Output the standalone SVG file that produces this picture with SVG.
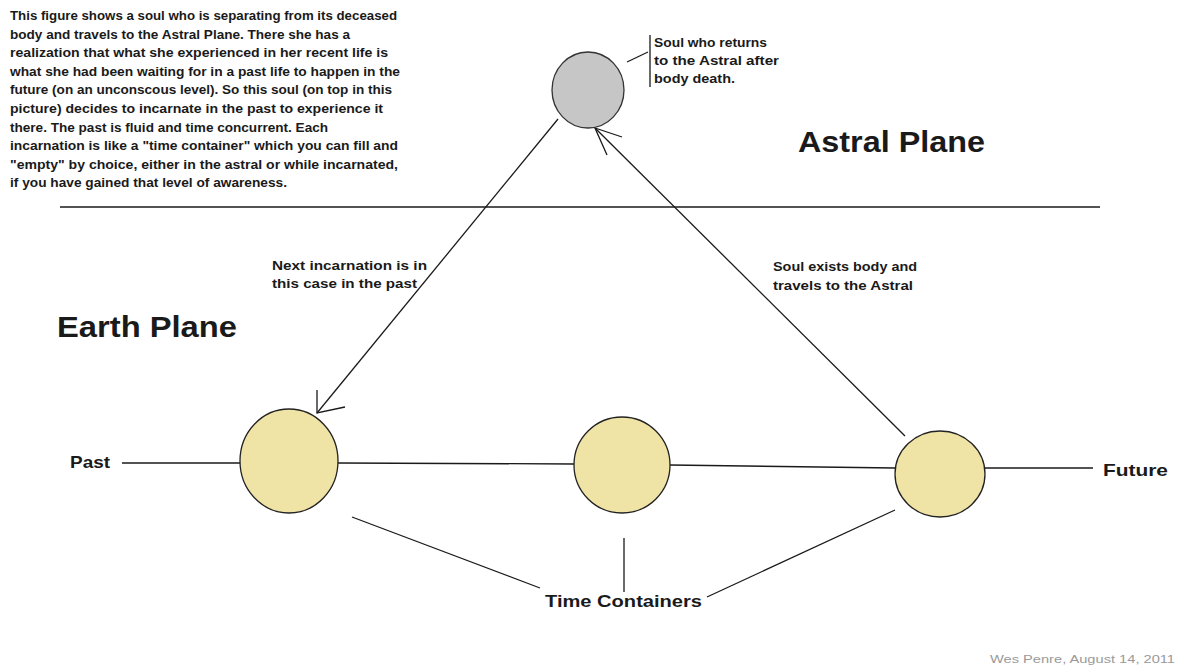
<svg xmlns="http://www.w3.org/2000/svg" width="1180" height="670" viewBox="0 0 1180 670">
<style>
.t{font-family:"Liberation Sans",Arial,sans-serif;font-weight:bold;fill:#1a1a1a}
.body{font-size:12px}
.lbl{font-size:13px}
.big{font-size:30px}
.mid{font-size:17px}
.ln{stroke:#1a1a1a;stroke-width:1.3;fill:none}
.yc{fill:#efe3a6;stroke:#222;stroke-width:1.3}
.gc{fill:#c6c6c6;stroke:#333;stroke-width:1.3}
</style>
<rect width="1180" height="670" fill="#ffffff"/>

<g id="description" class="t body">
<text x="10" y="20" textLength="387" lengthAdjust="spacingAndGlyphs">This figure shows a soul who is separating from its deceased</text>
<text x="10" y="38.6" textLength="340" lengthAdjust="spacingAndGlyphs">body and travels to the Astral Plane. There she has a</text>
<text x="10" y="57.2" textLength="378" lengthAdjust="spacingAndGlyphs">realization that what she experienced in her recent life is</text>
<text x="10" y="75.8" textLength="390" lengthAdjust="spacingAndGlyphs">what she had been waiting for in a past life to happen in the</text>
<text x="10" y="94.4" textLength="382" lengthAdjust="spacingAndGlyphs">future (on an unconscous level). So this soul (on top in this</text>
<text x="10" y="113" textLength="373" lengthAdjust="spacingAndGlyphs">picture) decides to incarnate in the past to experience it</text>
<text x="10" y="131.6" textLength="318" lengthAdjust="spacingAndGlyphs">there. The past is fluid and time concurrent.  Each</text>
<text x="10" y="150.2" textLength="388" lengthAdjust="spacingAndGlyphs">incarnation is like a "time container" which you can fill and</text>
<text x="10" y="168.8" textLength="388" lengthAdjust="spacingAndGlyphs">"empty" by choice, either in the astral or while incarnated,</text>
<text x="10" y="187.4" textLength="277" lengthAdjust="spacingAndGlyphs">if you have gained that level of awareness.</text>
</g>

<g id="divider">
<line class="ln" x1="60" y1="207" x2="1100" y2="207"/>
</g>

<g id="astral-plane-label">
<text class="t big" x="798" y="152" textLength="187" lengthAdjust="spacingAndGlyphs">Astral Plane</text>
</g>
<g id="earth-plane-label">
<text class="t big" x="57" y="337" textLength="180" lengthAdjust="spacingAndGlyphs">Earth Plane</text>
</g>

<g id="connectors">
<!-- callout for soul -->
<line class="ln" x1="627" y1="62" x2="648" y2="52"/>
<line class="ln" x1="650" y1="35" x2="650" y2="87"/>
<!-- next incarnation arrow -->
<line class="ln" x1="558" y1="119" x2="317" y2="413"/>
<path class="ln" d="M317,390 L317,413 L345,407"/>
<!-- return to astral arrow -->
<line class="ln" x1="905" y1="436" x2="595" y2="128"/>
<path class="ln" d="M622,137 L595,128 L607,155"/>
<!-- timeline -->
<line class="ln" x1="122" y1="463" x2="240" y2="463"/>
<line class="ln" x1="338" y1="463" x2="574" y2="464"/>
<line class="ln" x1="670" y1="465" x2="895" y2="468"/>
<line class="ln" x1="985" y1="468" x2="1093" y2="468"/>
<!-- time containers pointers -->
<line class="ln" x1="352" y1="517" x2="540" y2="588"/>
<line class="ln" x1="624" y1="538" x2="624" y2="592"/>
<line class="ln" x1="707" y1="597" x2="895" y2="510"/>
</g>

<g id="soul">
<ellipse class="gc" cx="588" cy="90" rx="36" ry="38"/>
</g>
<g id="soul-label" class="t lbl">
<text x="654" y="47" textLength="113" lengthAdjust="spacingAndGlyphs">Soul who returns</text>
<text x="654" y="65" textLength="125" lengthAdjust="spacingAndGlyphs">to the Astral after</text>
<text x="654" y="83" textLength="81" lengthAdjust="spacingAndGlyphs">body death.</text>
</g>

<g id="next-incarnation-label" class="t lbl">
<text x="272" y="270" textLength="155" lengthAdjust="spacingAndGlyphs">Next incarnation is in</text>
<text x="272" y="288" textLength="145" lengthAdjust="spacingAndGlyphs">this case in the past</text>
</g>

<g id="soul-exits-label" class="t lbl">
<text x="773" y="271" textLength="144" lengthAdjust="spacingAndGlyphs">Soul exists body and</text>
<text x="773" y="290" textLength="140" lengthAdjust="spacingAndGlyphs">travels to the Astral</text>
</g>

<g id="past-container">
<ellipse class="yc" cx="289" cy="461" rx="49" ry="52"/>
</g>
<g id="middle-container">
<ellipse class="yc" cx="622" cy="465" rx="48" ry="48"/>
</g>
<g id="future-container">
<ellipse class="yc" cx="940" cy="474" rx="45" ry="43"/>
</g>

<g id="past-label">
<text class="t mid" x="70" y="468" textLength="40" lengthAdjust="spacingAndGlyphs">Past</text>
</g>
<g id="future-label">
<text class="t mid" x="1103" y="476" textLength="65" lengthAdjust="spacingAndGlyphs">Future</text>
</g>
<g id="time-containers-label">
<text class="t mid" x="545" y="607" textLength="157" lengthAdjust="spacingAndGlyphs">Time Containers</text>
</g>

<g id="credit">
<text x="990" y="663" font-family="Liberation Sans, Arial, sans-serif" font-size="11.5" fill="#9a9a9a" textLength="185" lengthAdjust="spacingAndGlyphs">Wes Penre, August 14, 2011</text>
</g>
</svg>
